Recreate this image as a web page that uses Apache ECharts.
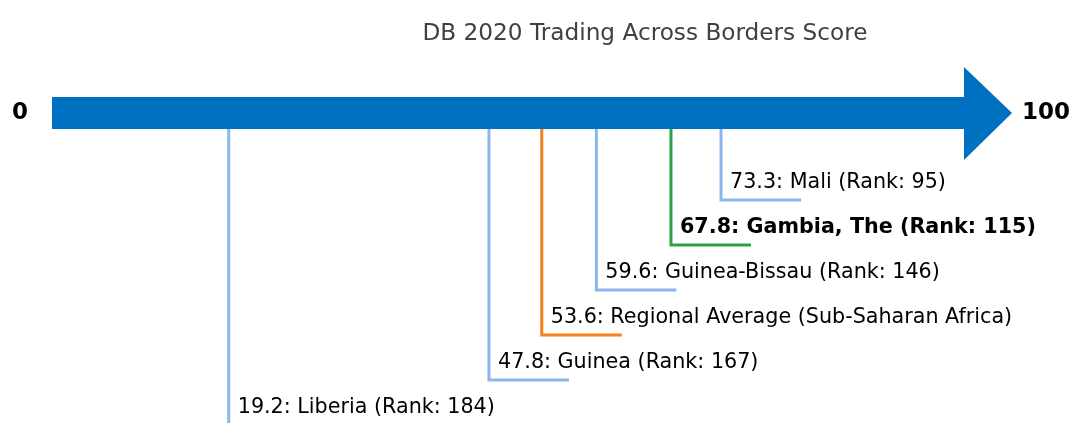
<!DOCTYPE html>
<html>
<head>
<meta charset="utf-8">
<script src="https://cdn.jsdelivr.net/npm/echarts@6/dist/echarts.min.js"></script>
<style>
  html, body { margin: 0; padding: 0; background: #fff; }
  #main { width: 1072px; height: 423px; }
</style>
</head>
<body>
<div id="main"></div>
<script>
// scores, top of the list is drawn closest to the arrow
var names = ['Mali', 'Gambia, The', 'Guinea-Bissau', 'Regional Average (Sub-Saharan Africa)', 'Guinea', 'Liberia']
var scores = [73.3, 67.8, 59.6, 53.6, 47.8, 19.2]
var ranks = [95, 115, 146, null, 167, 184]
var kinds = ['other', 'focus', 'other', 'region', 'other', 'other']
var axisEnds = [0, 100]

var colors = { other: '#8cb4ef', focus: '#2ca048', region: '#f7801e' }
var font = 'DejaVu Sans'

var mychart = echarts.init(document.getElementById('main'))

var arrowTop = 97, arrowBottom = 129, headTop = 67, headBottom = 160, headLen = 48

function arrowItem(params, api) {
    var x0 = api.coord([api.value(0), 0])[0]
    var x1 = api.coord([api.value(1), 0])[0]
    var mid = (arrowTop + arrowBottom) / 2
    return {
        type: 'group',
        children: [{
            type: 'rect',
            shape: { x: x0 - 2, y: arrowTop, width: x1 - x0 + 3, height: arrowBottom - arrowTop },
            style: { fill: '#0070c0' }
        }, {
            type: 'polygon',
            shape: { points: [[x1, headTop], [x1 + headLen, mid], [x1, headBottom]] },
            style: { fill: '#0070c0' }
        }, {
            type: 'text',
            style: { text: String(api.value(0)), x: x0 - 26, y: mid, align: 'right', verticalAlign: 'middle',
                font: 'bold 23px "' + font + '"', fill: '#000' }
        }, {
            type: 'text',
            style: { text: String(api.value(1)), x: x1 + headLen + 10, y: mid, align: 'left', verticalAlign: 'middle',
                font: 'bold 23px "' + font + '"', fill: '#000' }
        }]
    }
}

function markerItem(params, api) {
    var i = params.dataIndex
    var x = api.coord([api.value(0), 0])[0]
    var yEnd = 200 + 45 * i
    var label = scores[i].toFixed(1) + ': ' + names[i] + (ranks[i] != null ? ' (Rank: ' + ranks[i] + ')' : '')
    var bold = kinds[i] === 'focus'
    return {
        type: 'group',
        children: [{
            type: 'polyline',
            shape: { points: [[x, arrowBottom], [x, yEnd], [x + 80, yEnd]] },
            style: { stroke: colors[kinds[i]], lineWidth: 3, fill: null }
        }, {
            type: 'text',
            style: { text: label, x: x + 9, y: yEnd - 17, align: 'left', verticalAlign: 'middle',
                font: (bold ? 'bold ' : '') + '20.7px "' + font + '"', fill: '#000' }
        }]
    }
}

mychart.setOption({
    animation: false,
    title: {
        text: 'DB 2020 Trading Across Borders Score',
        left: 640,
        textAlign: 'center',
        top: 17,
        textStyle: { fontFamily: font, fontWeight: 'normal', fontSize: 23.2, color: '#404040' }
    },
    grid: { left: 54, right: 108, top: 0, bottom: 0 },
    xAxis: { type: 'value', min: 0, max: 100, show: false },
    yAxis: { type: 'value', min: 0, max: 1, show: false },
    series: [{
        type: 'custom',
        renderItem: arrowItem,
        data: [axisEnds],
        z: 3
    }, {
        type: 'custom',
        renderItem: markerItem,
        data: scores.map(function(s) { return [s] }),
        z: 2
    }]
})
</script>
</body>
</html>
